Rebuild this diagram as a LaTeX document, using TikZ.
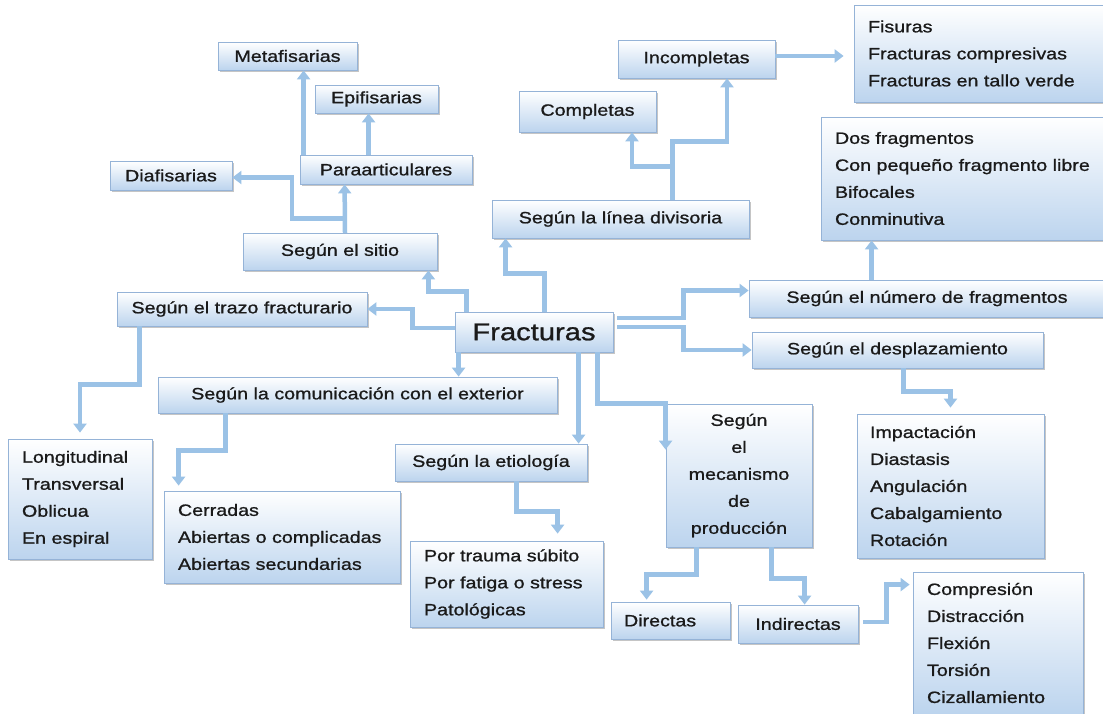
\documentclass[tikz,border=0pt]{standalone}
\usepackage{fontspec}
\usepackage{tikz}
\usetikzlibrary{
  arrows.meta,
  shadows,
  calc
}
\newfontfamily\mapfont[FakeStretch=1.2, FakeBold=1.0]{Liberation Sans}
\newcommand\boxfont{\mapfont\fontsize{16.4}{27}\selectfont}
\newcommand\rootfont{\mapfont\fontsize{24.3}{29}\selectfont}
\definecolor{mapLine}{HTML}{9BC2E6}
\definecolor{mapEdge}{HTML}{95B3D7}
\definecolor{mapFill}{HTML}{BCD4EE}
\definecolor{mapText}{HTML}{1A1A1A}
\tikzset{
  mapbox/.style={
    draw=mapEdge, line width=0.8pt, top color=white, bottom color=mapFill,
    drop shadow={shadow xshift=2pt, shadow yshift=-2pt, fill=black!45, opacity=0.5},
    inner sep=0pt, align=center, font=\boxfont, text=mapText
  },
  listbox/.style={mapbox, align=left, inner xsep=14pt},
  link/.style={-{Triangle[length=9pt, width=13pt]}, line width=4.5pt, mapLine}
}

\begin{document}
\begin{tikzpicture}[x=1pt, y=-1pt]
  \useasboundingbox[fill=white] (0,0) rectangle (1103,714);
  % centre
  \node[mapbox, minimum width=158pt, minimum height=40pt, font=\rootfont] (frac) at (534,332) {Fracturas};
  % upper left
  \node[mapbox, minimum width=139pt, minimum height=28pt] (meta) at (287.5,56) {Metafisarias};
  \node[mapbox, minimum width=123pt, minimum height=28pt] (epi) at (376.5,99) {Epifisarias};
  \node[mapbox, minimum width=172pt, minimum height=29pt] (para) at (386,169.5) {Paraarticulares};
  \node[mapbox, minimum width=122pt, minimum height=29pt] (diaf) at (171,175.5) {Diafisarias};
  \node[mapbox, minimum width=194pt, minimum height=37pt] (sitio) at (340,251.5) {Según el sitio};
  \node[mapbox, minimum width=250pt, minimum height=34pt] (trazo) at (242,309) {Según el trazo fracturario};
  % lower left
  \node[mapbox, minimum width=399pt, minimum height=36pt] (comun) at (357.5,395) {Según la comunicación con el exterior};
  \node[listbox, text width=116pt, minimum height=120pt] (longi) at (80,499) {Longitudinal\\Transversal\\Oblicua\\En espiral};
  \node[listbox, text width=208pt, minimum height=92pt] (cerr) at (282,537) {Cerradas\\Abiertas o complicadas\\Abiertas secundarias};
  \node[mapbox, minimum width=192pt, minimum height=37pt] (etio) at (491,462.5) {Según la etiología};
  \node[listbox, text width=165pt, minimum height=86pt] (trauma) at (506.5,584) {Por trauma súbito\\Por fatiga o stress\\Patológicas};
  % mechanism
  \node[mapbox, minimum width=146pt, minimum height=143pt] (mec) at (739,475.5) {Según\\el\\mecanismo\\de\\producción};
  \node[listbox, inner xsep=13pt, text width=93pt, minimum height=37pt] (direc) at (670.5,620.5) {Directas};
  \node[mapbox, minimum width=120pt, minimum height=38pt] (indir) at (798,624) {Indirectas};
  \node[listbox, text width=142pt, minimum height=142pt] (compr) at (998,643) {Compresión\\Distracción\\Flexión\\Torsión\\Cizallamiento};
  % right side
  \node[listbox, inner xsep=13pt, text width=161pt, minimum height=144pt] (impac) at (950.5,486) {Impactación\\Diastasis\\Angulación\\Cabalgamiento\\Rotación};
  \node[mapbox, minimum width=291pt, minimum height=36pt] (desp) at (897.5,350) {Según el desplazamiento};
  \node[mapbox, minimum width=356pt, minimum height=37pt] (nume) at (927,298.5) {Según el número de fragmentos};
  \node[listbox, text width=258pt, minimum height=123pt] (dos) at (964,178.5) {Dos fragmentos\\Con pequeño fragmento libre\\Bifocales\\Conminutiva};
  \node[listbox, text width=223pt, minimum height=97pt] (fisu) at (979.5,53.5) {Fisuras\\Fracturas compresivas\\Fracturas en tallo verde};
  % upper middle
  \node[mapbox, minimum width=157pt, minimum height=38pt] (incom) at (696.5,59) {Incompletas};
  \node[mapbox, minimum width=137pt, minimum height=41pt] (compl) at (587.5,111.5) {Completas};
  \node[mapbox, minimum width=257pt, minimum height=38pt] (linea) at (620.5,219) {Según la línea divisoria};

  % from the centre
  \draw[link] ([xshift=12pt]frac.north west) -- ++(0,-20) -| ([xshift=-9pt]sitio.south east);
  \draw[link] ([xshift=90pt]frac.north west) -- ++(0,-38) -| ([xshift=14pt]linea.south west);
  \draw[link] ([yshift=4pt]frac.west) -- ++(-42,0) |- (trazo.east);
  \draw[link] ([xshift=4pt]frac.south west) -- ([xshift=4pt]frac.south west |- comun.north);
  \draw[link] ([xshift=124pt]frac.south west) -- ([xshift=124pt]frac.south west |- etio.north);
  \coordinate (mecin) at ([yshift=-46pt]mec.north west);
  \draw[link] ([xshift=143pt]frac.south west) -- ++(0,51) -| (mecin);
  \draw[link] ([xshift=4pt, yshift=14pt]frac.east) -- ++(66,0) |- ([yshift=8pt]nume.west);
  \draw[link] ([xshift=4pt, yshift=5pt]frac.east) -- ++(66,0) |- (desp.west);

  % site
  \draw[link] ([xshift=5pt]sitio.north) -- ([xshift=45pt]para.south west);
  \draw[link] ([xshift=5pt]sitio.north) -- ++(0,-14) -- ++(-53,0) |- ([yshift=-2pt]diaf.east);
  \draw[link] ([xshift=4pt]para.north west) -- ([xshift=4pt]para.north west |- meta.south);
  \draw[link] ([xshift=69pt]para.north west) -- ([xshift=69pt]para.north west |- epi.south);

  % dividing line
  \draw[link] ([xshift=181pt]linea.north west) -- ++(0,-58) -| ([xshift=30.5pt]incom.south);
  \draw[link] ([xshift=181pt]linea.north west) -- ++(0,-33) -| ([xshift=44.5pt]compl.south);
  \draw[link, shorten >=10pt] ([yshift=3pt]incom.east) -- ([yshift=3pt]incom.east -| fisu.west);

  % fragments and displacement
  \draw[link] ([xshift=123pt]nume.north west) -- ([xshift=123pt]nume.north west |- dos.south);
  \draw[link, shorten >=6pt] ([xshift=152pt]desp.south west) -- ++(0,23) -| (impac.north);

  % left branches
  \draw[link, shorten >=6pt] ([xshift=23pt]trazo.south west) -- ++(0,58) -| (longi.north);
  \draw[link, shorten >=5pt] ([xshift=68pt]comun.south west) -- ++(0,37) -| ([xshift=15pt]cerr.north west);
  \draw[link, shorten >=7pt] ([xshift=122pt]etio.south west) -- ++(0,30) -| ([xshift=148pt]trauma.north west);

  % mechanism
  \draw[link, shorten >=2pt] ([xshift=31pt]mec.south west) -- ++(0,27) -| ([xshift=36pt]direc.north west);
  \draw[link] ([xshift=106pt]mec.south west) -- ++(0,31) -| ([xshift=67pt]indir.north west);
  \draw[link, shorten >=3pt] ([xshift=5pt, yshift=2pt]indir.east) -- ++(23,0) |- ([yshift=-13pt]compr.north west);
\end{tikzpicture}
\end{document}
